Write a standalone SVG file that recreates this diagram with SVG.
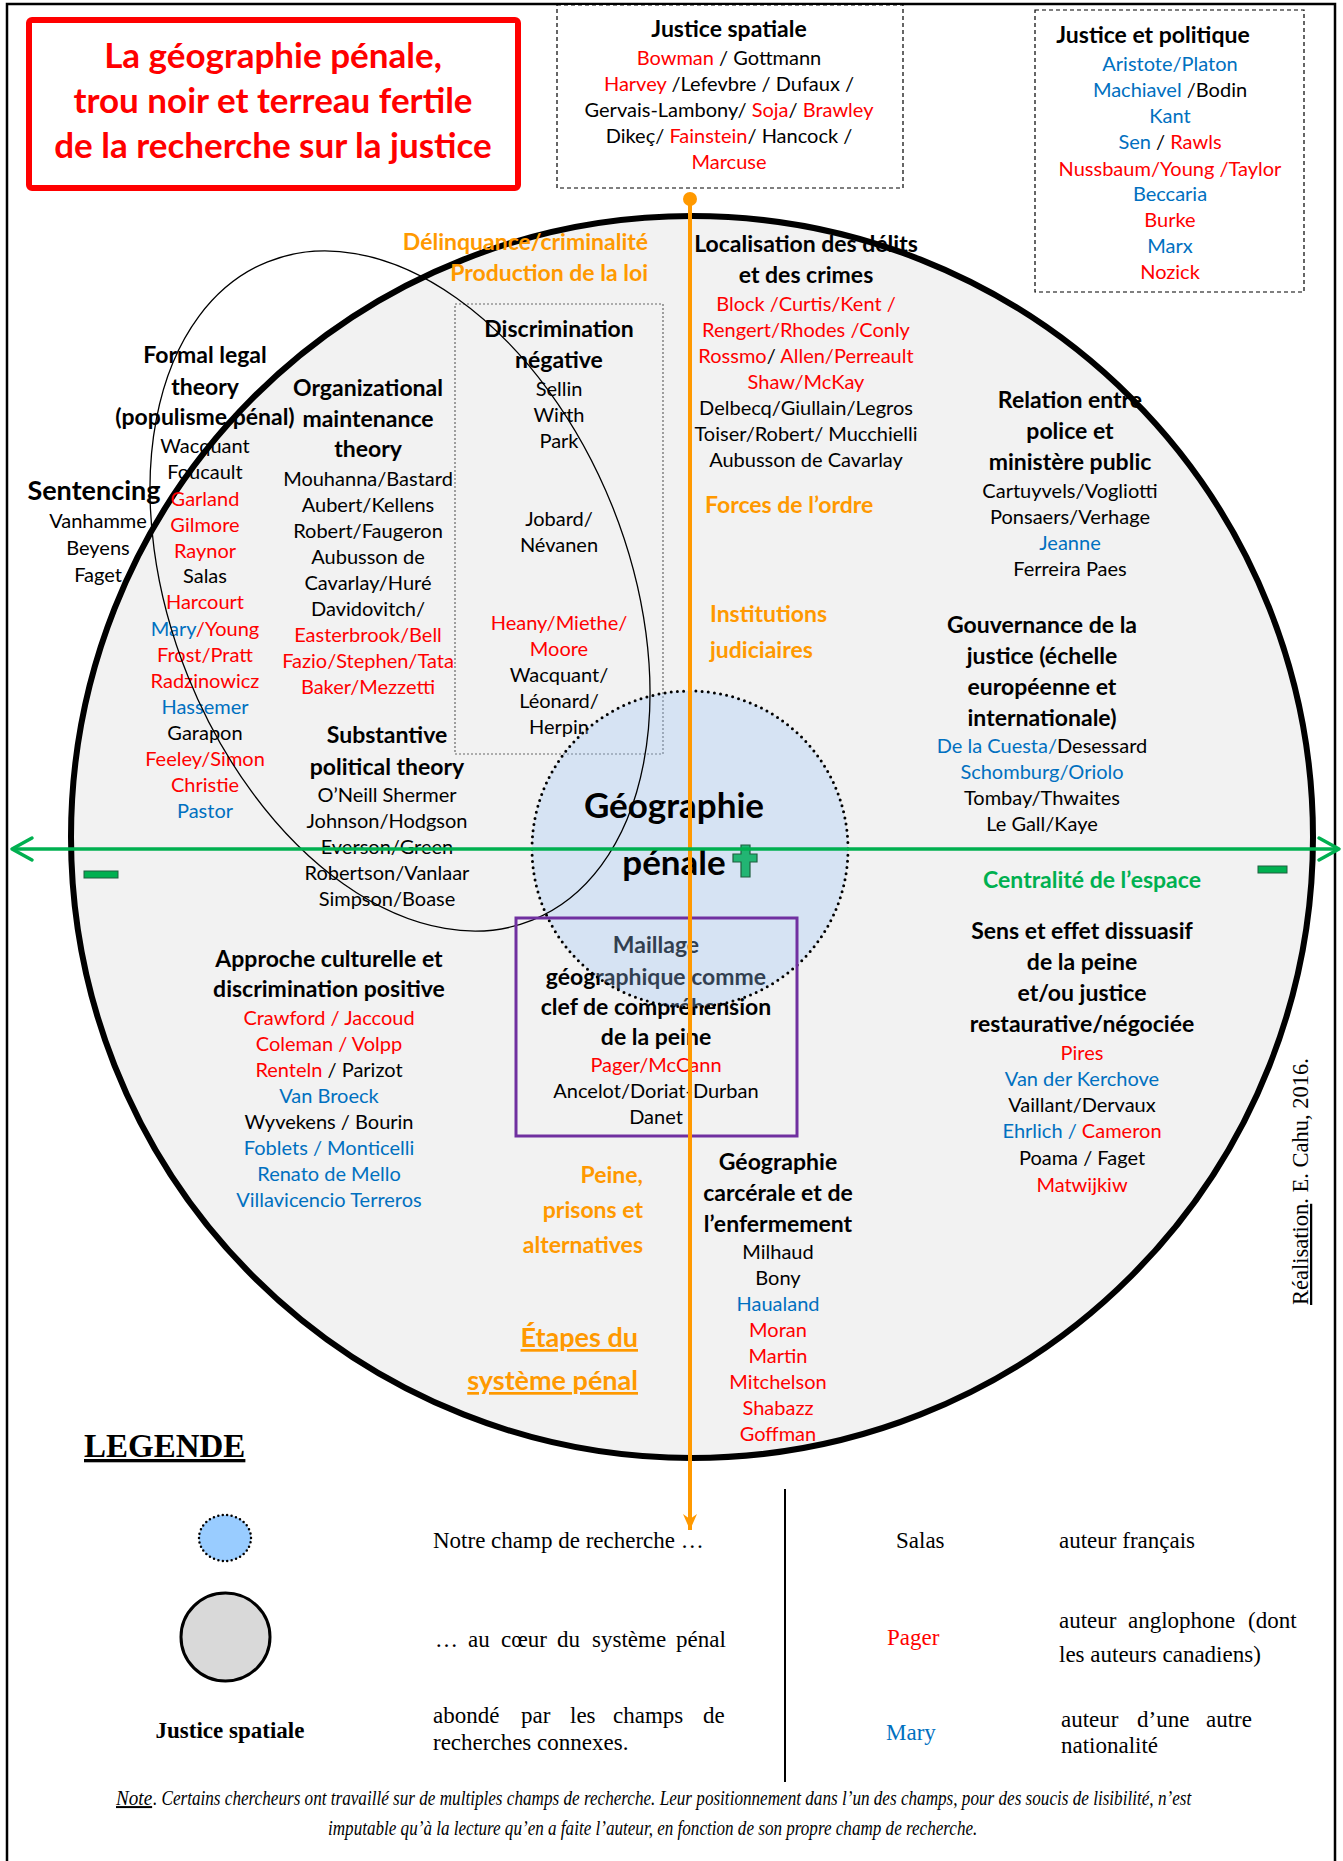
<svg xmlns="http://www.w3.org/2000/svg" width="1343" height="1861" viewBox="0 0 1343 1861">
<defs>
<style>
text{font-family:Lato,"Open Sans","DejaVu Sans",sans-serif}
.n{font-size:20px;text-anchor:middle;fill:#000}
.h{font-size:23px;font-weight:bold;text-anchor:middle;fill:#000}
.t{font-size:35px;font-weight:bold;fill:#FF0000;text-anchor:middle}
.r{fill:#FF0000}
.b{fill:#0070C0}
.o{fill:#FF9900;font-weight:bold;font-size:23px}
.g{fill:#00B050;font-weight:bold;font-size:23px;text-anchor:middle}
.s{font-family:"Liberation Serif","Times New Roman",serif;font-size:23px;fill:#000}
.it{font-family:"Liberation Serif","Times New Roman",serif;font-size:20px;font-style:italic;fill:#000}
.dash{fill:#fff;stroke:#000;stroke-width:1.2;stroke-dasharray:4 3}
</style>
<marker id="oa" viewBox="0 0 16 14" refX="16" refY="7" markerWidth="16" markerHeight="14" markerUnits="userSpaceOnUse" orient="auto">
<path d="M0,0 L16,7 L0,14 L5,7 Z" fill="#FF9900"/>
</marker>
</defs>
<rect x="0" y="0" width="1343" height="1861" fill="#fff"/>
<rect x="7" y="4" width="1328" height="1880" fill="none" stroke="#000" stroke-width="2.5"/>

<g id="title">
<rect x="29" y="20" width="489" height="168" rx="3" fill="#fff" stroke="#FF0000" stroke-width="6"/>
<text class="t" x="273" y="68">La géographie pénale,</text>
<text class="t" x="273" y="113">trou noir et terreau fertile</text>
<text class="t" x="273" y="158">de la recherche sur la justice</text>
</g>

<g id="justice-spatiale">
<rect class="dash" x="557" y="5" width="346" height="183"/>
<text class="h" x="729" y="37">Justice spatiale</text>
<text class="n" x="729" y="65"><tspan class="r">Bowman</tspan> / Gottmann</text>
<text class="n" x="729" y="91"><tspan class="r">Harvey</tspan> /Lefevbre / Dufaux /</text>
<text class="n" x="729" y="117">Gervais-Lambony/ <tspan class="r">Soja</tspan>/ <tspan class="r">Brawley</tspan></text>
<text class="n" x="729" y="143">Dikeç/ <tspan class="r">Fainstein</tspan>/ Hancock /</text>
<text class="n r" x="729" y="169">Marcuse</text>
</g>

<g id="justice-politique">
<rect class="dash" x="1035" y="10" width="269" height="282"/>
<text class="h" x="1153" y="43">Justice et politique</text>
<text class="n b" x="1170" y="71">Aristote/Platon</text>
<text class="n" x="1170" y="97"><tspan class="b">Machiavel</tspan> /Bodin</text>
<text class="n b" x="1170" y="123">Kant</text>
<text class="n" x="1170" y="149"><tspan class="b">Sen</tspan> / <tspan class="r">Rawls</tspan></text>
<text class="n r" x="1170" y="176">Nussbaum/Young /Taylor</text>
<text class="n b" x="1170" y="201">Beccaria</text>
<text class="n r" x="1170" y="227">Burke</text>
<text class="n b" x="1170" y="253">Marx</text>
<text class="n r" x="1170" y="279">Nozick</text>
</g>

<g id="systeme-penal">
<circle cx="692" cy="837" r="621" fill="#F2F2F2" stroke="#000" stroke-width="6"/>
</g>

<g id="discrimination-box">
<rect x="455" y="304" width="208" height="450" fill="none" stroke="#666" stroke-width="1.2" stroke-dasharray="2 2"/>
</g>

<g id="orange-labels">
<text class="o" x="648" y="250" text-anchor="end">Délinquance/criminalité</text>
<text class="o" x="648" y="281" text-anchor="end">Production de la loi</text>
<text class="o" x="705" y="513">Forces de l’ordre</text>
<text class="o" x="710" y="622">Institutions</text>
<text class="o" x="710" y="658">judiciaires</text>
<text class="o" x="643" y="1183" text-anchor="end">Peine,</text>
<text class="o" x="643" y="1218" text-anchor="end">prisons et</text>
<text class="o" x="643" y="1253" text-anchor="end">alternatives</text>
<text class="o" x="638" y="1347" text-anchor="end" style="font-size:27px" text-decoration="underline">Étapes du</text>
<text class="o" x="638" y="1390" text-anchor="end" style="font-size:27px" text-decoration="underline">système pénal</text>
<text class="g" x="1092" y="888">Centralité de l’espace</text>
</g>

<g id="formal-legal">
<text class="h" x="205" y="363">Formal legal</text>
<text class="h" x="205" y="395">theory</text>
<text class="h" x="205" y="425">(populisme pénal)</text>
<text class="n" x="205" y="453">Wacquant</text>
<text class="n" x="205" y="479">Foucault</text>
<text class="n r" x="205" y="506">Garland</text>
<text class="n r" x="205" y="532">Gilmore</text>
<text class="n r" x="205" y="558">Raynor</text>
<text class="n" x="205" y="583">Salas</text>
<text class="n r" x="205" y="609">Harcourt</text>
<text class="n" x="205" y="636"><tspan class="b">Mary</tspan><tspan class="r">/Young</tspan></text>
<text class="n r" x="205" y="662">Frost/Pratt</text>
<text class="n r" x="205" y="688">Radzinowicz</text>
<text class="n b" x="205" y="714">Hassemer</text>
<text class="n" x="205" y="740">Garapon</text>
<text class="n r" x="205" y="766">Feeley/Simon</text>
<text class="n r" x="205" y="792">Christie</text>
<text class="n b" x="205" y="818">Pastor</text>
</g>

<g id="sentencing">
<text class="h" x="94" y="500" style="font-size:27px">Sentencing</text>
<text class="n" x="98" y="528">Vanhamme</text>
<text class="n" x="98" y="555">Beyens</text>
<text class="n" x="98" y="582">Faget</text>
</g>

<g id="organizational">
<text class="h" x="368" y="396">Organizational</text>
<text class="h" x="368" y="427">maintenance</text>
<text class="h" x="368" y="457">theory</text>
<text class="n" x="368" y="486">Mouhanna/Bastard</text>
<text class="n" x="368" y="512">Aubert/Kellens</text>
<text class="n" x="368" y="538">Robert/Faugeron</text>
<text class="n" x="368" y="564">Aubusson de</text>
<text class="n" x="368" y="590">Cavarlay/Huré</text>
<text class="n" x="368" y="616">Davidovitch/</text>
<text class="n r" x="368" y="642">Easterbrook/Bell</text>
<text class="n r" x="368" y="668">Fazio/Stephen/Tata</text>
<text class="n r" x="368" y="694">Baker/Mezzetti</text>
</g>

<g id="substantive">
<text class="h" x="387" y="743">Substantive</text>
<text class="h" x="387" y="775">political theory</text>
<text class="n" x="387" y="802">O’Neill Shermer</text>
<text class="n" x="387" y="828">Johnson/Hodgson</text>
<text class="n" x="387" y="854">Everson/Green</text>
<text class="n" x="387" y="880">Robertson/Vanlaar</text>
<text class="n" x="387" y="906">Simpson/Boase</text>
</g>

<g id="discrimination">
<text class="h" x="559" y="337">Discrimination</text>
<text class="h" x="559" y="368">négative</text>
<text class="n" x="559" y="396">Sellin</text>
<text class="n" x="559" y="422">Wirth</text>
<text class="n" x="559" y="448">Park</text>
<text class="n" x="559" y="526">Jobard/</text>
<text class="n" x="559" y="552">Névanen</text>
<text class="n r" x="559" y="630">Heany/Miethe/</text>
<text class="n r" x="559" y="656">Moore</text>
<text class="n" x="559" y="682">Wacquant/</text>
<text class="n" x="559" y="708">Léonard/</text>
<text class="n" x="559" y="734">Herpin</text>
</g>

<g id="localisation">
<text class="h" x="806" y="252">Localisation des délits</text>
<text class="h" x="806" y="283">et des crimes</text>
<text class="n r" x="806" y="311">Block /Curtis/Kent /</text>
<text class="n r" x="806" y="337">Rengert/Rhodes /Conly</text>
<text class="n" x="806" y="363"><tspan class="r">Rossmo</tspan>/ <tspan class="r">Allen/Perreault</tspan></text>
<text class="n r" x="806" y="389">Shaw/McKay</text>
<text class="n" x="806" y="415">Delbecq/Giullain/Legros</text>
<text class="n" x="806" y="441">Toiser/Robert/ Mucchielli</text>
<text class="n" x="806" y="467">Aubusson de Cavarlay</text>
</g>

<g id="relation">
<text class="h" x="1070" y="408">Relation entre</text>
<text class="h" x="1070" y="439">police et</text>
<text class="h" x="1070" y="470">ministère public</text>
<text class="n" x="1070" y="498">Cartuyvels/Vogliotti</text>
<text class="n" x="1070" y="524">Ponsaers/Verhage</text>
<text class="n b" x="1070" y="550">Jeanne</text>
<text class="n" x="1070" y="576">Ferreira Paes</text>
</g>

<g id="gouvernance">
<text class="h" x="1042" y="633">Gouvernance de la</text>
<text class="h" x="1042" y="664">justice (échelle</text>
<text class="h" x="1042" y="695">européenne et</text>
<text class="h" x="1042" y="726">internationale)</text>
<text class="n" x="1042" y="753"><tspan class="b">De la Cuesta/</tspan>Desessard</text>
<text class="n b" x="1042" y="779">Schomburg/Oriolo</text>
<text class="n" x="1042" y="805">Tombay/Thwaites</text>
<text class="n" x="1042" y="831">Le Gall/Kaye</text>
</g>

<g id="approche">
<text class="h" x="329" y="967">Approche culturelle et</text>
<text class="h" x="329" y="997">discrimination positive</text>
<text class="n r" x="329" y="1025">Crawford / Jaccoud</text>
<text class="n r" x="329" y="1051">Coleman / Volpp</text>
<text class="n" x="329" y="1077"><tspan class="r">Renteln</tspan> / Parizot</text>
<text class="n b" x="329" y="1103">Van Broeck</text>
<text class="n" x="329" y="1129">Wyvekens / Bourin</text>
<text class="n b" x="329" y="1155">Foblets / Monticelli</text>
<text class="n b" x="329" y="1181">Renato de Mello</text>
<text class="n b" x="329" y="1207">Villavicencio Terreros</text>
</g>

<g id="maillage">
<text class="h" x="656" y="953">Maillage</text>
<text class="h" x="656" y="985">géographique comme</text>
<text class="h" x="656" y="1015">clef de compréhension</text>
<text class="h" x="656" y="1045">de la peine</text>
<text class="n r" x="656" y="1072">Pager/McCann</text>
<text class="n" x="656" y="1098">Ancelot/Doriat-Durban</text>
<text class="n" x="656" y="1124">Danet</text>
</g>

<g id="sens">
<text class="h" x="1082" y="939">Sens et effet dissuasif</text>
<text class="h" x="1082" y="970">de la peine</text>
<text class="h" x="1082" y="1001">et/ou justice</text>
<text class="h" x="1082" y="1032">restaurative/négociée</text>
<text class="n r" x="1082" y="1060">Pires</text>
<text class="n b" x="1082" y="1086">Van der Kerchove</text>
<text class="n" x="1082" y="1112">Vaillant/Dervaux</text>
<text class="n" x="1082" y="1138"><tspan class="b">Ehrlich /</tspan> <tspan class="r">Cameron</tspan></text>
<text class="n" x="1082" y="1165">Poama / Faget</text>
<text class="n r" x="1082" y="1192">Matwijkiw</text>
</g>

<g id="carcerale">
<text class="h" x="778" y="1170">Géographie</text>
<text class="h" x="778" y="1201">carcérale et de</text>
<text class="h" x="778" y="1232">l’enfermement</text>
<text class="n" x="778" y="1259">Milhaud</text>
<text class="n" x="778" y="1285">Bony</text>
<text class="n b" x="778" y="1311">Haualand</text>
<text class="n r" x="778" y="1337">Moran</text>
<text class="n r" x="778" y="1363">Martin</text>
<text class="n r" x="778" y="1389">Mitchelson</text>
<text class="n r" x="778" y="1415">Shabazz</text>
<text class="n r" x="778" y="1441">Goffman</text>
</g>

<g id="geographie-penale">
<circle cx="690" cy="849" r="158" fill="#9DC3F7" fill-opacity="0.32"/>
<circle cx="690" cy="849" r="158" fill="none" stroke="#000" stroke-width="3" stroke-dasharray="0 6.2" stroke-linecap="round"/>
<text class="h" x="674" y="818" style="font-size:35px">Géographie</text>
<text class="h" x="674" y="875" style="font-size:35px">pénale</text>
<path d="M741,845 H750 V854 H757 V862 H750 V877 H741 V862 H733 V854 H741 Z" fill="#22B573" stroke="#1F5F3F" stroke-width="1.2"/>
</g>

<g id="ellipse-populisme">
<ellipse cx="0" cy="0" rx="228.6" ry="354.8" transform="translate(400 591) rotate(-21.9)" fill="none" stroke="#000" stroke-width="1.3"/>
</g>

<g id="maillage-box">
<rect x="516" y="918" width="281" height="218" fill="none" stroke="#7030A0" stroke-width="3"/>
</g>

<g id="connectors">
<circle cx="690" cy="199" r="7" fill="#FF9900"/>
<line x1="690" y1="199" x2="690" y2="1530" stroke="#FF9900" stroke-width="4" marker-end="url(#oa)"/>
<line x1="12" y1="849" x2="1339" y2="849" stroke="#00B050" stroke-width="3.5"/>
<polyline points="32,838 12,849 32,860" fill="none" stroke="#00B050" stroke-width="3.5" stroke-linecap="round" stroke-linejoin="round"/>
<polyline points="1319,838 1339,849 1319,860" fill="none" stroke="#00B050" stroke-width="3.5" stroke-linecap="round" stroke-linejoin="round"/>
<rect x="84" y="871" width="34" height="7" fill="#00B050" stroke="#1F5F3F" stroke-width="1"/>
<rect x="1258" y="866" width="29" height="7" fill="#00B050" stroke="#1F5F3F" stroke-width="1"/>
</g>

<g id="legende">
<text class="s" x="84" y="1457" style="font-size:33px;font-weight:bold" text-decoration="underline">LEGENDE</text>
<ellipse cx="225" cy="1538" rx="26" ry="23" fill="#99CCFF"/>
<ellipse cx="225" cy="1538" rx="26" ry="23" fill="none" stroke="#000" stroke-width="2.5" stroke-dasharray="0 4.5" stroke-linecap="round"/>
<ellipse cx="225.5" cy="1637" rx="44.5" ry="44" fill="#D9D9D9" stroke="#000" stroke-width="3"/>
<text class="s" x="230" y="1738" style="font-weight:bold" text-anchor="middle">Justice spatiale</text>
<text class="s" x="433" y="1548">Notre champ de recherche …</text>
<text class="s" y="1647"><tspan x="435">…</tspan><tspan x="468">au</tspan><tspan x="501">cœur</tspan><tspan x="557">du</tspan><tspan x="592">système</tspan><tspan x="676">pénal</tspan></text>
<text class="s" y="1723"><tspan x="433">abondé</tspan><tspan x="521">par</tspan><tspan x="570">les</tspan><tspan x="613">champs</tspan><tspan x="703">de</tspan></text>
<text class="s" x="433" y="1750">recherches connexes.</text>
<line x1="785" y1="1489" x2="785" y2="1782" stroke="#000" stroke-width="2"/>
<text class="s" x="896" y="1548">Salas</text>
<text class="s" x="1059" y="1548">auteur français</text>
<text class="s" x="887" y="1645" style="fill:#FF0000">Pager</text>
<text class="s" y="1628"><tspan x="1059">auteur</tspan><tspan x="1128">anglophone</tspan><tspan x="1248">(dont</tspan></text>
<text class="s" x="1059" y="1662">les auteurs canadiens)</text>
<text class="s" x="886" y="1740" style="fill:#0070C0">Mary</text>
<text class="s" y="1727"><tspan x="1061">auteur</tspan><tspan x="1137">d’une</tspan><tspan x="1206">autre</tspan></text>
<text class="s" x="1061" y="1753">nationalité</text>
<g transform="translate(116 1805) scale(0.84 1)">
<text class="it" x="0" y="0" text-decoration="underline" textLength="43" lengthAdjust="spacingAndGlyphs">Note</text>
<text class="it" x="44" y="0" textLength="1236" lengthAdjust="spacingAndGlyphs">. Certains chercheurs ont travaillé sur de multiples champs de recherche. Leur positionnement dans l’un des champs, pour des soucis de lisibilité, n’est</text>
</g>
<g transform="translate(328 1835) scale(0.84 1)">
<text class="it" x="0" y="0" textLength="773" lengthAdjust="spacingAndGlyphs">imputable qu’à la lecture qu’en a faite l’auteur, en fonction de son propre champ de recherche.</text>
</g>
<text class="s" style="font-size:22.5px" transform="translate(1308 1305) rotate(-90)"><tspan text-decoration="underline">Réalisation</tspan>. E. Cahu, 2016.</text>
</g>
</svg>
